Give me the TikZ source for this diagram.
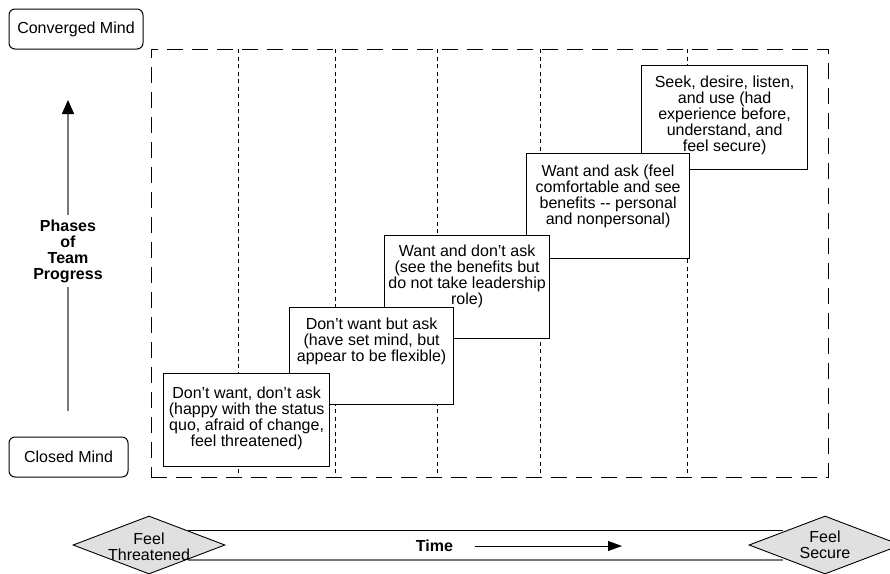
\documentclass[tikz,border=0pt]{standalone}
\usepackage{fontspec}
\setmainfont{Liberation Sans}
\usetikzlibrary{arrows.meta,shapes.geometric}
\definecolor{diamfill}{RGB}{224,224,224}
\definecolor{axisgray}{RGB}{120,120,120}
\begin{document}
\begin{tikzpicture}[x=1pt,y=-1pt,
  every node/.style={font=\fontsize{16}{16}\selectfont},
  stepbox/.style={draw=black, line width=1.2pt, fill=white, rectangle, inner sep=0pt, anchor=north west},
  boxtext/.style={align=center, inner sep=0pt, anchor=north},
  mindbox/.style={draw=black, line width=1pt, rounded corners=6pt, rectangle, inner sep=0pt},
  framebox/.style={draw=black, line width=0.9pt, dash pattern=on 16pt off 9pt, rectangle, inner sep=0pt, anchor=north west},
  divider/.style={draw=black, line width=0.8pt, dash pattern=on 4pt off 3.5pt},
  diam/.style={diamond, draw=black, line width=0.9pt, fill=diamfill, inner sep=0pt},
  boldlbl/.style={font=\fontsize{16}{16}\selectfont\bfseries, align=center}
]
\clip (0,0) rectangle (890,573);
\useasboundingbox (0,0) rectangle (890,573);

% frame
\node[framebox, minimum width=677pt, minimum height=428pt] (frame) at (151,49) {};
% dividers
\foreach \xx/\nm in {238/d1,335/d2,437/d3,540/d4,687/d5}{
  \coordinate (\nm t) at (\xx,49);
  \coordinate (\nm b) at (\xx,477);
  \draw[divider] (\nm t) -- (\nm b);
}

% boxes (drawn from back to front)
\node[stepbox, minimum width=166pt, minimum height=104pt] (b5) at (641,65) {};
\node[boxtext] at ([yshift=-10.5pt]b5.north) {Seek, desire, listen,\\and use (had\\experience before,\\understand, and\\feel secure)};

\node[stepbox, minimum width=163pt, minimum height=105pt] (b4) at (526,153) {};
\node[boxtext] at ([yshift=-12pt]b4.north) {Want and ask (feel\\comfortable and see\\benefits -{}- personal\\and nonpersonal)};

\node[stepbox, minimum width=165pt, minimum height=103pt] (b3) at (384,235) {};
\node[boxtext] at ([yshift=-10pt]b3.north) {Want and don’t ask\\(see the benefits but\\do not take leadership\\role)};

\node[stepbox, minimum width=164pt, minimum height=97pt] (b2) at (289,307) {};
\node[boxtext] at ([yshift=-11pt]b2.north) {Don’t want but ask\\(have set mind, but\\appear to be flexible)};

\node[stepbox, minimum width=166pt, minimum height=93pt] (b1) at (163,373) {};
\node[boxtext] at ([yshift=-14pt]b1.north) {Don’t want, don’t ask\\(happy with the status\\quo, afraid of change,\\feel threatened)};

% left axis
\node[mindbox, minimum width=134pt, minimum height=40pt] (conv) at (76,29) {Converged Mind};
\node[mindbox, minimum width=119pt, minimum height=40pt] (closed) at (68.5,457) {Closed Mind};
\node[boldlbl, inner xsep=2pt, inner ysep=4pt] (phases) at (68,251) {Phases\\of\\Team\\Progress};
\coordinate (axbot) at (68,411);
\coordinate (axtop) at (68,100);
\draw[axisgray, line width=1.5pt] (axbot) -- (phases.south);
\draw[axisgray, line width=1.5pt, -{Triangle[black,length=14pt,width=12pt]}] (phases.north) -- (axtop);

% time band
\node[rectangle, inner sep=0pt, minimum width=595pt, minimum height=29pt] (band) at (485.5,545.5) {};
\draw[black, line width=1pt] (band.north west) -- (band.north east);
\draw[axisgray, line width=1.6pt] (band.south west) -- (band.south east);

\node[boldlbl] (time) at (434.5,546) {Time};
\coordinate (ts) at (475,546);
\coordinate (te) at (622,546);
\draw[black, line width=0.9pt, -{Triangle[length=14pt,width=10pt]}] (ts) -- (te);

\node[diam, minimum width=152pt, minimum height=58pt] (ft) at (149,545) {};
\node[align=center, inner sep=0pt] at ([yshift=-2pt]ft.center) {Feel\\Threatened};
\node[diam, minimum width=152pt, minimum height=58pt] (fs) at (825,545) {};
\node[align=center, inner sep=0pt] at (fs.center) {Feel\\Secure};
\end{tikzpicture}
\end{document}
